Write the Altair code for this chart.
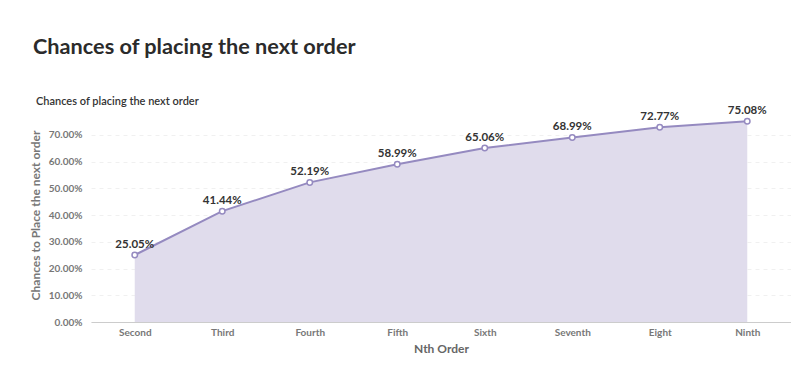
import altair as alt
import pandas as pd

orders = ["Second", "Third", "Fourth", "Fifth", "Sixth", "Seventh", "Eight", "Ninth"]
chances = [0.2505, 0.4144, 0.5219, 0.5899, 0.6506, 0.6899, 0.7277, 0.7508]
y_ticks = [0.0, 0.1, 0.2, 0.3, 0.4, 0.5, 0.6, 0.7]
main_title = "Chances of placing the next order"
sub_title = "Chances of placing the next order"

df = pd.DataFrame({"order": orders, "chance": chances})

FONT = "Lato"
LINE = "#958ac0"
FILL = "#e0dcec"

x = alt.X("order:N", sort=orders, title="Nth Order",
          scale=alt.Scale(paddingInner=0, paddingOuter=0.5),
          axis=alt.Axis(labelAngle=0, labelFont=FONT, labelFontSize=10, labelFontWeight="bold",
                        labelColor="#777777", labelPadding=5, ticks=False,
                        domainColor="#cccccc", titleFont=FONT, titleFontSize=12,
                        titleFontWeight="bold", titleColor="#666666", titlePadding=6, grid=False))
y = alt.Y("chance:Q", title="Chances to Place the next order",
          scale=alt.Scale(domain=[0, 0.8], nice=False),
          axis=alt.Axis(values=y_ticks, format=".2%", labelFont=FONT, labelFontSize=10,
                        labelFontWeight="bold", labelColor="#777777", labelPadding=9,
                        ticks=False, domain=False, gridColor="#f0f0f0", gridDash=[4, 4],
                        titleFont=FONT, titleFontSize=12, titleFontWeight="bold",
                        titleColor="#777777", titlePadding=6))

base = alt.Chart(df).encode(x=x, y=y)
area = base.mark_area(color=FILL, opacity=1)
line = base.mark_line(color=LINE, strokeWidth=2)
points = base.mark_point(shape="circle", filled=True, fill="white", stroke=LINE,
                         strokeWidth=1.5, size=30, opacity=1)
labels = base.mark_text(dy=-10, font=FONT, fontSize=11.5, fontWeight="bold",
                        color="#333333", baseline="middle").encode(
    text=alt.Text("chance:Q", format=".2%"))

t1 = alt.Chart(pd.DataFrame({"t": [main_title]})).mark_text(
    align="left", baseline="alphabetic", font=FONT, fontSize=21.7, fontWeight="bold",
    color="#2b2b2b").encode(text="t:N", x=alt.value(-58), y=alt.value(-54))
t2 = alt.Chart(pd.DataFrame({"t": [sub_title]})).mark_text(
    align="left", baseline="alphabetic", font=FONT, fontSize=11, fontWeight=600,
    color="#333333").encode(text="t:N", x=alt.value(-55), y=alt.value(-3))

chart = alt.layer(area, line, points, labels, t1, t2).properties(
    width=700, height=214,
    autosize=alt.AutoSizeParams(type="none"),
    padding={"left": 83, "top": 100, "right": 0, "bottom": 36},
    view=alt.ViewBackground(strokeWidth=0, strokeOpacity=0),
).configure_view(strokeWidth=0, strokeOpacity=0).configure(background="white")

chart.save("out.html", embed_options={"renderer": "svg", "actions": False})
